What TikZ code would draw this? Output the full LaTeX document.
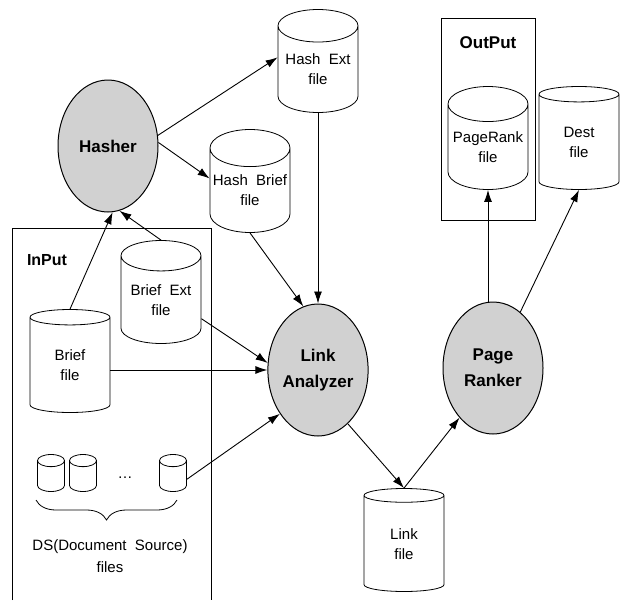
\documentclass[tikz,border=0pt]{standalone}
\usepackage{fontspec}
\setmainfont{Liberation Sans}
\usetikzlibrary{shapes.geometric,arrows.meta,decorations.pathreplacing}

\begin{document}
\begin{tikzpicture}[x=1pt, y=-1pt,
	file/.style={shape=cylinder, shape border rotate=90, aspect=0.5, anchor=shape center, draw=black, line width=0.8pt, minimum width=80pt, minimum height=103pt, inner sep=0pt, align=center, font=\fontsize{15}{20}\selectfont},
	small/.style={shape=cylinder, shape border rotate=90, aspect=0.45, anchor=shape center, draw=black, line width=0.8pt, minimum width=27pt, minimum height=37pt, inner xsep=13.5pt, inner ysep=0pt},
	proc/.style={shape=ellipse, draw=black, line width=1pt, fill=black!18, minimum width=100pt, minimum height=132pt, inner sep=0pt, align=center, font=\bfseries\fontsize{17}{26}\selectfont},
	arr/.style={-{Latex[length=12pt, width=8pt]}, line width=0.9pt}]
	\useasboundingbox (0,0) rectangle (624,600);

	% boxes
	\draw[line width=0.8pt] (12,600) -- (12,228) -- (211,228) -- (211,600);
	\draw[line width=0.8pt] (441,18) rectangle (535,220);
	\node[font=\bfseries\fontsize{16}{20}\selectfont] (inlbl) at (47,260) {InPut};
	\node[font=\bfseries\fontsize{17}{20}\selectfont] (outlbl) at (488,43) {OutPut};

	% processes
	\node[proc] (hasher) at (108,146) {Hasher};
	\node[proc] (linkan) at (318,370) {Link\\Analyzer};
	\node[proc] (ranker) at (493,368) {Page\\Ranker};

	% files
	\node[file] (hashext) at (318,61) {Hash~ Ext\\file};
	\node[file] (hashbrief) at (250,181) {Hash~ Brief\\file};
	\node[file] (briefext) at (161,292) {Brief~ Ext\\file};
	\node[file] (brief) at (70,361) {Brief\\file};
	\node[file] (pagerank) at (488,138) {PageRank\\file};
	\node[file] (dest) at (579,138) {Dest\\file};
	\node[file] (linkfile) at (404,540) {Link\\file};

	% document sources
	\node[small] (s1) at (51,473) {};
	\node[small] (s2) at (83,473) {};
	\node[small] (s3) at (173,473) {};
	\node[font=\fontsize{15}{19}\selectfont] (dots) at (125,478) {\dots};
	\draw[line width=0.8pt, decorate, decoration={brace, mirror, amplitude=20pt}] (36,500) -- (177,500);
	\node[align=center, font=\fontsize{15}{22}\selectfont] (dslbl) at (110,556) {DS(Document~ Source)\\files};

	\path [arr] (hasher.12) edge ([yshift=12pt]hashext.west);
	\path [arr] (hasher.4) edge ([yshift=12pt]hashbrief.west);
	\path [arr] (brief.north) edge (hasher.274);
	\path [arr] (briefext.north) edge (hasher.280);

	\path [arr] (hashext.south) edge (linkan.north);
	\path [arr] (hashbrief.south) edge (linkan.103);
	\path [arr] (briefext.-25) edge (linkan.172);
	\path [arr] (brief.east |- linkan.west) edge (linkan.west);
	\path [arr] (s3.east) edge (linkan.229);

	\path [arr] (linkan.299) edge (linkfile.north);
	\path [arr] (linkfile.north) edge (ranker.236);
	\path [arr] (ranker.north -| pagerank.south) edge (pagerank.south);
	\path [arr] (ranker.64) edge (dest.south);

\end{tikzpicture}
\end{document}
